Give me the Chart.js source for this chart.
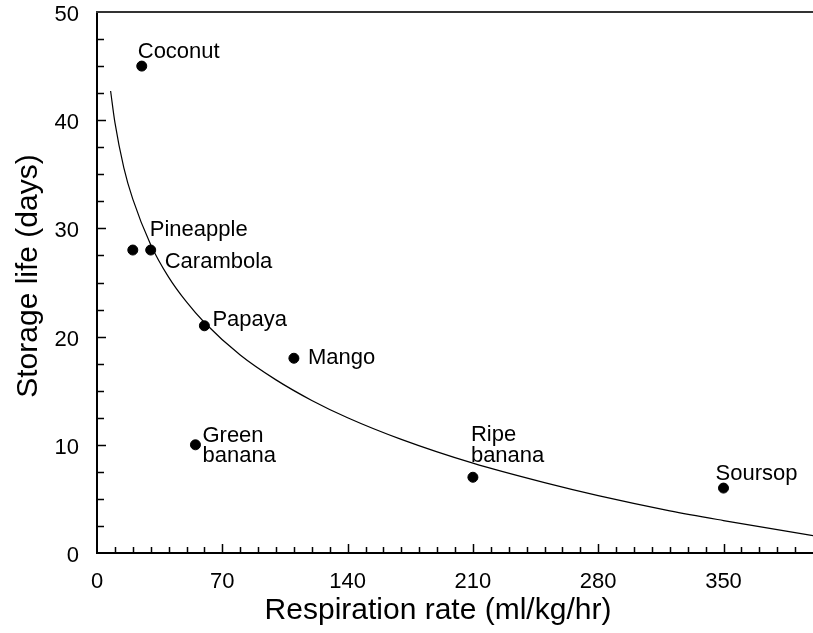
<!DOCTYPE html>
<html>
<head>
<meta charset="utf-8">
<title>Storage life vs respiration rate</title>
<script src="https://cdn.jsdelivr.net/npm/chart.js"></script>
<style>
  html, body { margin: 0; padding: 0; background: #fff; }
  #wrap { width: 813px; height: 633px; }
</style>
</head>
<body>
<div id="wrap"><canvas id="chart" width="813" height="633"></canvas></div>
<script>
// fruits: respiration rate (ml/kg/hr) and storage life (days)
const fruitNames = ['Coconut', 'Pineapple', 'Carambola', 'Papaya', 'Mango', 'Green\nbanana', 'Ripe\nbanana', 'Soursop'];
const respRate = [25, 20, 30, 60, 110, 55, 210, 350];
const storageDays = [45, 28, 28, 21, 18, 10, 7, 6];

// fitted trend line, read along its length
const trendX = [7.6, 10, 15, 20, 30, 40, 50, 60, 80, 100, 120, 140, 170, 210, 250, 280, 320, 350, 400];
const trendY = [42.7, 39.8, 35.6, 32.7, 28.5, 25.5, 23.2, 21.3, 18.3, 16.0, 14.1, 12.5, 10.5, 8.3, 6.5, 5.3, 3.9, 3.0, 1.6];

const xTickLabels = [0, 70, 140, 210, 280, 350];
const yTickLabels = [0, 10, 20, 30, 40, 50];

// where each name sits relative to its dot (first line baseline)
const labelOffsets = [[-4, -8], [17, -14], [14, 18], [8, 0], [14, 6], [7, -3], [-2, -36], [-8, -8]];

const FONT = '"Liberation Sans", Arial, Helvetica, sans-serif';
const INK = '#000';

// keep the plot box fixed: no extra room for overhanging tick labels
function noPadding(s) {
  s.paddingTop = 0;
  s.paddingBottom = 0;
  s.paddingLeft = 0;
  s.paddingRight = 0;
}

const decor = {
  id: 'decor',
  afterDraw(chart) {
    const ctx = chart.ctx;
    const area = chart.chartArea;
    const xs = chart.scales.x, ys = chart.scales.y;
    ctx.save();

    // top frame line
    ctx.strokeStyle = '#333';
    ctx.lineWidth = 2;
    ctx.beginPath();
    ctx.moveTo(area.left - 1, area.top);
    ctx.lineTo(area.right, area.top);
    ctx.stroke();

    // inward tick marks
    ctx.strokeStyle = INK;
    ctx.lineWidth = 1.5;
    ctx.beginPath();
    xs.ticks.forEach(t => {
      if (t.value <= xs.min || t.value >= xs.max) return;
      const px = Math.round(xs.getPixelForValue(t.value)) + 0.5;
      const len = xTickLabels.includes(t.value) ? 9 : 6;
      ctx.moveTo(px, area.bottom);
      ctx.lineTo(px, area.bottom - len);
    });
    ys.ticks.forEach(t => {
      if (t.value <= ys.min || t.value >= ys.max) return;
      const py = Math.round(ys.getPixelForValue(t.value)) + 0.5;
      const len = yTickLabels.includes(t.value) ? 9 : 7;
      ctx.moveTo(area.left, py);
      ctx.lineTo(area.left + len, py);
    });
    ctx.stroke();

    // names beside the dots
    ctx.fillStyle = INK;
    ctx.font = '22px ' + FONT;
    ctx.textAlign = 'left';
    ctx.textBaseline = 'alphabetic';
    fruitNames.forEach((name, i) => {
      const px = xs.getPixelForValue(respRate[i]);
      const py = ys.getPixelForValue(storageDays[i]);
      const [dx, dy] = labelOffsets[i];
      name.split('\n').forEach((line, j) => {
        ctx.fillText(line, px + dx, py + dy + j * 20.5);
      });
    });

    // axis titles
    ctx.font = '30px ' + FONT;
    ctx.textAlign = 'center';
    ctx.fillText('Respiration rate (ml/kg/hr)', 438, 619);
    ctx.translate(37, 276);
    ctx.rotate(-Math.PI / 2);
    ctx.fillText('Storage life (days)', 0, 0);
    ctx.restore();
  }
};

new Chart(document.getElementById('chart'), {
  type: 'scatter',
  data: {
    datasets: [
      {
        label: 'Fruits',
        data: respRate.map((x, i) => ({ x, y: storageDays[i] })),
        backgroundColor: INK,
        borderColor: INK,
        pointRadius: 5,
        pointHoverRadius: 5
      },
      {
        type: 'line',
        label: 'Trend',
        data: trendX.map((x, i) => ({ x, y: trendY[i] })),
        borderColor: INK,
        borderWidth: 1.2,
        pointRadius: 0,
        fill: false,
        clip: false,
        cubicInterpolationMode: 'monotone'
      }
    ]
  },
  options: {
    responsive: false,
    animation: false,
    layout: { autoPadding: false, padding: { top: 12, right: 0, left: 0, bottom: 0 } },
    plugins: { legend: { display: false }, tooltip: { enabled: false } },
    scales: {
      x: {
        type: 'linear',
        min: 0,
        max: 400,
        afterFit: s => { s.height = 80; noPadding(s); },
        grid: { display: false, drawTicks: false },
        border: { display: true, color: INK, width: 2 },
        ticks: {
          stepSize: 10,
          autoSkip: false,
          maxRotation: 0,
          padding: 16,
          color: INK,
          font: { family: FONT, size: 22 },
          callback: v => xTickLabels.includes(v) ? String(v) : ''
        }
      },
      y: {
        min: 0,
        max: 50,
        afterFit: s => { s.width = 97; noPadding(s); },
        grid: { display: false, drawTicks: false },
        border: { display: true, color: INK, width: 2 },
        ticks: {
          stepSize: 2.5,
          autoSkip: false,
          padding: 18,
          labelOffset: 3,
          color: INK,
          font: { family: FONT, size: 22 },
          callback: v => yTickLabels.includes(v) ? String(v) : ''
        }
      }
    }
  },
  plugins: [decor]
});
</script>
</body>
</html>
